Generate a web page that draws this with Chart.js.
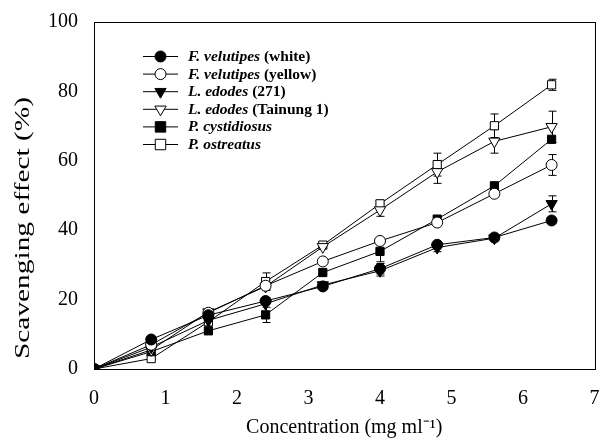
<!DOCTYPE html>
<html>
<head>
<meta charset="utf-8">
<script src="https://cdn.jsdelivr.net/npm/chart.js@4/dist/chart.umd.min.js"></script>
<style>
    html, body { margin: 0; padding: 0; background: #fff; }
    #wrap { width: 602px; height: 448px; }
</style>
</head>
<body>
<div id="wrap"><canvas id="chart" width="602" height="448"></canvas></div>
<script>
const concentrations = [0, 0.8, 1.6, 2.4, 3.2, 4.0, 4.8, 5.6, 6.4];

const fvWhite   = [0, 8.5, 15.5, 19.6, 23.8, 28.9, 35.8, 37.9, 42.8];
const fvYellow  = [0, 7.0, 16.2, 24.0, 31.0, 36.9, 42.2, 50.5, 58.8];
const le271     = [0, 6.3, 14.0, 18.8, 24.2, 28.3, 35.0, 37.7, 47.6];
const leTainung = [0, 5.5, 16.4, 23.8, 35.2, 45.8, 56.8, 65.6, 69.8];
const pCyst     = [0, 5.0, 11.0, 15.6, 27.8, 33.9, 43.2, 52.8, 66.2];
const pOstr     = [0, 3.0, 13.6, 25.2, 35.7, 47.6, 58.9, 70.1, 81.9];

const fvWhiteErr   = [0, 0, 0, 0.8, 0, 1.5, 0, 0, 0];
const fvYellowErr  = [0, 0, 0, 0, 0, 0, 0, 0, 3.0];
const le271Err     = [0, 0, 0, 0, 0, 1.5, 1.2, 0, 2.3];
const leTainungErr = [0, 0, 0, 1.0, 0, 1.8, 3.3, 3.4, 4.5];
const pCystErr     = [0, 0, 0, 2.2, 0, 3.0, 0, 0, 0];
const pOstrErr     = [0, 0, 0, 2.5, 0, 1.0, 3.3, 3.4, 1.6];

const speciesNames = ['F. velutipes', 'F. velutipes', 'L. edodes', 'L. edodes', 'P. cystidiosus', 'P. ostreatus'];
const strainNames = [' (white)', ' (yellow)', ' (271)', ' (Tainung 1)', '', ''];

const xTicks = [0, 1, 2, 3, 4, 5, 6, 7];
const yTicks = [0, 20, 40, 60, 80, 100];
const yTitle = 'Scavenging effect (%)';

const serif = "'Liberation Serif', 'Times New Roman', serif";

function makeSet(i, values, errors, style, filled, rotation, radius) {
    return {
        label: speciesNames[i] + strainNames[i],
        data: concentrations.map((x, k) => ({ x: x, y: values[k] })),
        errors: errors,
        borderColor: '#000',
        borderWidth: 1,
        pointStyle: style,
        pointRotation: rotation,
        pointRadius: radius,
        pointHoverRadius: radius,
        pointBorderWidth: 1,
        pointBorderColor: '#000',
        pointBackgroundColor: filled ? '#000' : '#fff',
        tension: 0,
        fill: false
    };
}

const datasets = [
    makeSet(0, fvWhite, fvWhiteErr, 'circle', true, 0, 5.5),
    makeSet(1, fvYellow, fvYellowErr, 'circle', false, 0, 5.5),
    makeSet(2, le271, le271Err, 'triangle', true, 180, 6.5),
    makeSet(3, leTainung, leTainungErr, 'triangle', false, 180, 6.5),
    makeSet(4, pCyst, pCystErr, 'rect', true, 0, 5.8),
    makeSet(5, pOstr, pOstrErr, 'rect', false, 0, 5.8)
];

// error bars drawn under the markers
const errorBars = {
    id: 'errorBars',
    beforeDatasetsDraw(chart) {
        const ctx = chart.ctx;
        const xs = chart.scales.x, ys = chart.scales.y;
        ctx.save();
        ctx.strokeStyle = '#000';
        ctx.lineWidth = 1;
        chart.data.datasets.forEach(ds => {
            ds.data.forEach((p, k) => {
                const e = ds.errors[k];
                if (!e) return;
                const px = Math.round(xs.getPixelForValue(p.x)) + 0.5;
                const top = ys.getPixelForValue(p.y + e);
                const bot = ys.getPixelForValue(p.y - e);
                ctx.beginPath();
                ctx.moveTo(px, top); ctx.lineTo(px, bot);
                ctx.moveTo(px - 4, top); ctx.lineTo(px + 4, top);
                ctx.moveTo(px - 4, bot); ctx.lineTo(px + 4, bot);
                ctx.stroke();
            });
        });
        ctx.restore();
    }
};

function drawMarker(ctx, ds, x, y) {
    const r = ds.pointRadius;
    ctx.beginPath();
    if (ds.pointStyle === 'circle') {
        ctx.arc(x, y, r, 0, Math.PI * 2);
    } else if (ds.pointStyle === 'rect') {
        ctx.rect(x - r * 0.9, y - r * 0.9, r * 1.8, r * 1.8);
    } else {
        ctx.moveTo(x - r * 0.87, y - r * 0.5);
        ctx.lineTo(x + r * 0.87, y - r * 0.5);
        ctx.lineTo(x, y + r);
        ctx.closePath();
    }
    ctx.fillStyle = ds.pointBackgroundColor;
    ctx.fill();
    ctx.stroke();
}

// frame, the stretched y title and a legend with italic species names
const frameAndLegend = {
    id: 'frameAndLegend',
    afterDraw(chart) {
        const ctx = chart.ctx;
        const a = chart.chartArea;
        ctx.save();
        ctx.strokeStyle = '#000';
        ctx.lineWidth = 1;
        ctx.strokeRect(Math.round(a.left) + 0.5, Math.round(a.top) + 0.5,
            Math.round(a.right - a.left), Math.round(a.bottom - a.top));

        // y title, wide tracking as in the original figure
        ctx.save();
        ctx.fillStyle = '#000';
        ctx.font = '20px ' + serif;
        ctx.textAlign = 'center';
        ctx.textBaseline = 'middle';
        const tw = ctx.measureText(yTitle).width;
        ctx.translate(24, 228);
        ctx.rotate(-Math.PI / 2);
        ctx.scale(262 / tw, 1);
        ctx.fillText(yTitle, 0, 0);
        ctx.restore();

        chart.data.datasets.forEach((ds, i) => {
            const y = 56 + i * 17.6;
            ctx.beginPath();
            ctx.moveTo(143, y + 0.5);
            ctx.lineTo(178, y + 0.5);
            ctx.stroke();
            drawMarker(ctx, ds, 160.5, y + 0.5);
            ctx.fillStyle = '#000';
            ctx.textBaseline = 'middle';
            ctx.font = 'bold italic 15.5px ' + serif;
            ctx.fillText(speciesNames[i], 188, y + 1);
            const w = ctx.measureText(speciesNames[i]).width;
            ctx.font = 'bold 15.5px ' + serif;
            ctx.fillText(strainNames[i], 188 + w, y + 1);
        });
        ctx.restore();
    }
};

new Chart(document.getElementById('chart'), {
    type: 'line',
    data: { datasets: datasets },
    options: {
        responsive: false,
        animation: false,
        events: [],
        layout: { padding: { top: 22, right: 6, left: 0, bottom: 0 } },
        plugins: { legend: { display: false }, tooltip: { enabled: false } },
        scales: {
            x: {
                type: 'linear',
                min: 0,
                max: 7,
                afterBuildTicks: s => { s.ticks = xTicks.map(v => ({ value: v })); },
                afterFit: s => { s.height = 79; s.paddingRight = 0; s.paddingLeft = 0; },
                grid: { display: false, drawTicks: true, tickLength: 5, tickColor: '#000' },
                border: { display: true, color: '#000', width: 1 },
                ticks: { color: '#000', font: { family: serif, size: 20 }, padding: 13, maxRotation: 0 },
                title: {
                    display: true,
                    text: 'Concentration (mg ml\u207B\u00B9)',
                    color: '#000',
                    font: { family: serif, size: 20 },
                    padding: { top: 4, bottom: 8 }
                }
            },
            y: {
                min: 0,
                max: 100,
                afterBuildTicks: s => { s.ticks = yTicks.map(v => ({ value: v })); },
                afterFit: s => { s.width = 94; s.paddingTop = 0; s.paddingBottom = 0; },
                grid: { display: false, drawTicks: true, tickLength: 8, tickColor: '#000' },
                border: { display: true, color: '#000', width: 1 },
                ticks: { color: '#000', font: { family: serif, size: 20 }, padding: 8 },
                title: { display: false }
            }
        }
    },
    plugins: [errorBars, frameAndLegend]
});
</script>
</body>
</html>
